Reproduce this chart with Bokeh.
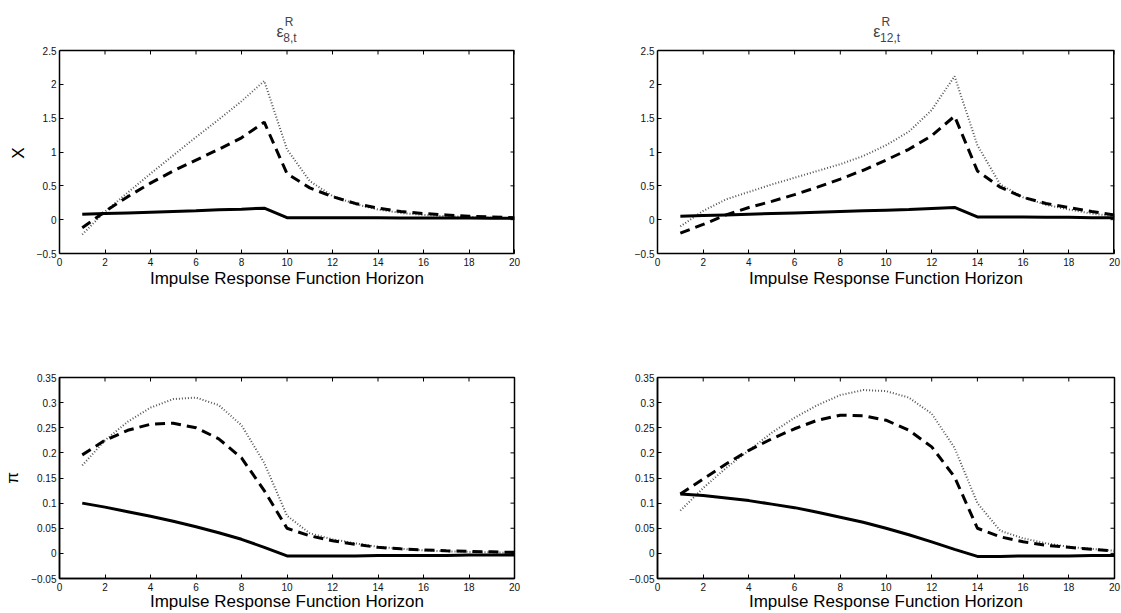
from bokeh.plotting import figure
from bokeh.layouts import gridplot
from bokeh.models import Range1d, FixedTicker, Label
from bokeh.embed import file_html
from bokeh.resources import INLINE

# ---------------- data ----------------
horizon = [1, 2, 3, 4, 5, 6, 7, 8, 9, 10, 11, 12, 13, 14, 15, 16, 17, 18, 19, 20]

x_ticks = [0, 2, 4, 6, 8, 10, 12, 14, 16, 18, 20]
x_tick_labels = ["0", "2", "4", "6", "8", "10", "12", "14", "16", "18", "20"]

y_ticks_x = [-0.5, 0, 0.5, 1, 1.5, 2, 2.5]
y_tick_labels_x = ["\u22120.5", "0", "0.5", "1", "1.5", "2", "2.5"]
y_ticks_pi = [-0.05, 0, 0.05, 0.1, 0.15, 0.2, 0.25, 0.3, 0.35]
y_tick_labels_pi = ["\u22120.05", "0", "0.05", "0.1", "0.15", "0.2", "0.25", "0.3", "0.35"]

x_axis_title = "Impulse Response Function Horizon"
row_labels = ["X", "\u03c0"]
shock_subscripts = ["8,t", "12,t"]

# output gap X, shock eps_8
x8_solid = [0.08, 0.09, 0.10, 0.11, 0.12, 0.13, 0.145, 0.155, 0.17, 0.03,
            0.03, 0.03, 0.028, 0.027, 0.026, 0.025, 0.024, 0.023, 0.022, 0.02]
x8_dashed = [-0.12, 0.12, 0.34, 0.54, 0.72, 0.88, 1.04, 1.21, 1.44, 0.68,
             0.47, 0.34, 0.24, 0.17, 0.12, 0.09, 0.07, 0.05, 0.04, 0.03]
x8_dotted = [-0.22, 0.12, 0.40, 0.68, 0.95, 1.22, 1.48, 1.75, 2.05, 1.04,
             0.57, 0.35, 0.23, 0.15, 0.10, 0.07, 0.05, 0.04, 0.03, 0.02]

# output gap X, shock eps_12
x12_solid = [0.05, 0.06, 0.07, 0.08, 0.09, 0.10, 0.11, 0.12, 0.13, 0.14,
             0.15, 0.165, 0.18, 0.04, 0.04, 0.04, 0.035, 0.035, 0.03, 0.03]
x12_dashed = [-0.20, -0.07, 0.07, 0.18, 0.27, 0.37, 0.48, 0.60, 0.73, 0.88,
              1.04, 1.24, 1.53, 0.72, 0.48, 0.33, 0.24, 0.18, 0.12, 0.07]
x12_dotted = [-0.10, 0.13, 0.30, 0.41, 0.52, 0.62, 0.72, 0.82, 0.94, 1.10,
              1.30, 1.62, 2.12, 1.10, 0.52, 0.33, 0.22, 0.15, 0.09, 0.05]

# inflation pi, shock eps_8
pi8_solid = [0.100, 0.092, 0.083, 0.074, 0.064, 0.053, 0.041, 0.028, 0.012, -0.005,
             -0.005, -0.005, -0.005, -0.004, -0.004, -0.004, -0.004, -0.003, -0.003, -0.003]
pi8_dashed = [0.196, 0.225, 0.245, 0.257, 0.259, 0.250, 0.228, 0.190, 0.125, 0.050,
              0.035, 0.025, 0.018, 0.012, 0.009, 0.007, 0.005, 0.004, 0.003, 0.002]
pi8_dotted = [0.175, 0.225, 0.262, 0.290, 0.307, 0.310, 0.295, 0.255, 0.180, 0.075,
              0.040, 0.028, 0.020, 0.013, 0.009, 0.006, 0.004, 0.003, 0.002, 0.001]

# inflation pi, shock eps_12
pi12_solid = [0.118, 0.115, 0.110, 0.105, 0.098, 0.091, 0.082, 0.072, 0.062, 0.050,
              0.037, 0.023, 0.008, -0.006, -0.006, -0.005, -0.005, -0.005, -0.004, -0.004]
pi12_dashed = [0.118, 0.148, 0.178, 0.205, 0.228, 0.248, 0.265, 0.275, 0.274, 0.265,
               0.245, 0.212, 0.152, 0.050, 0.033, 0.023, 0.016, 0.012, 0.008, 0.005]
pi12_dotted = [0.085, 0.130, 0.170, 0.205, 0.240, 0.270, 0.295, 0.315, 0.325, 0.323,
               0.310, 0.278, 0.210, 0.100, 0.045, 0.030, 0.020, 0.013, 0.009, 0.005]

FONT = "Liberation Sans"
NBSP = "\u00a0"


def make_panel(width, height, bl, br, bt, bb, yr, yticks, ylabels,
               solid, dashed, dotted, ylabel=None, xlab_standoff=0, title_space=0):
    lo, hi = yr
    frame_h = height - bt - bb
    top = hi + title_space * (hi - lo) / frame_h   # room above the box for the title
    p = figure(width=width, height=height + title_space, output_backend="svg",
               toolbar_location=None,
               x_range=Range1d(0, 20), y_range=Range1d(lo, top),
               min_border_left=bl, min_border_right=br,
               min_border_top=bt, min_border_bottom=bb)
    p.background_fill_color = "white"
    p.border_fill_color = "white"
    p.grid.visible = False

    p.line(horizon, dotted, line_color="#555555", line_width=2, line_dash="1 2")
    p.line(horizon, dashed, line_color="black", line_width=3, line_dash="10 6")
    p.line(horizon, solid, line_color="black", line_width=3)

    if title_space:
        p.outline_line_color = None
        # top and right edges of the axes box
        p.line([0, 20], [hi, hi], line_color="black", line_width=1.5)
        p.line([20, 20], [lo, hi], line_color="black", line_width=3)
    else:
        p.outline_line_color = "black"
        p.outline_line_width = 1.5

    # inward ticks on the top and right edges of the box
    p.ray(x=x_ticks, y=[hi] * len(x_ticks), length=4, length_units="screen",
          angle=-90, angle_units="deg", line_color="black", line_width=1)
    p.ray(x=[20] * len(yticks), y=yticks, length=4, length_units="screen",
          angle=180, angle_units="deg", line_color="black", line_width=1)

    xa = p.below[0]
    ya = p.left[0]
    for ax, ticks, labs in ((xa, x_ticks, x_tick_labels), (ya, yticks, ylabels)):
        ax.ticker = FixedTicker(ticks=ticks)
        ax.major_label_overrides = {t: l for t, l in zip(ticks, labs)}
        ax.minor_tick_line_color = None
        ax.major_tick_in = 4
        ax.major_tick_out = 0
        ax.axis_line_width = 1.5
        ax.axis_line_color = "black"
        ax.major_tick_line_color = "black"
        ax.major_label_text_font = FONT
        ax.major_label_text_font_size = "10px"
        ax.major_label_text_color = "#111111"
        ax.axis_label_text_font = FONT
        ax.axis_label_text_font_style = "normal"
        ax.axis_label_text_color = "black"
    ya.bounds = (lo, hi)
    xa.major_label_standoff = 4
    ya.major_label_standoff = 3
    xa.axis_label = x_axis_title
    xa.axis_label_text_font_size = "17px"
    xa.axis_label_standoff = xlab_standoff
    if ylabel:
        # the label is centred on the whole frame; pad it so the glyph sits at the box centre
        pad = int(round(title_space / 4.7))
        ya.axis_label = ylabel + NBSP * pad
        ya.axis_label_text_font_size = "17px"
        ya.axis_label_standoff = 6
    return p


def add_title(p, x_eps, sub):
    # epsilon with superscript R and subscript, placed above the box
    p.add_layout(Label(x=x_eps, y=2.781, text="\u03b5",
                       text_font=FONT, text_font_size="16px",
                       text_baseline="alphabetic", text_align="left"))
    p.add_layout(Label(x=x_eps + 0.36, y=2.918, text="R",
                       text_font=FONT, text_font_size="12px",
                       text_baseline="alphabetic", text_align="left"))
    p.add_layout(Label(x=x_eps + 0.30, y=2.685, text=sub,
                       text_font=FONT, text_font_size="12px",
                       text_baseline="alphabetic", text_align="left"))


TOP_H, BOT_H = 270, 293
LW, RW = 600, 521
TITLE_SPACE = 50

p1 = make_panel(LW, TOP_H, 57, 86, 0, 67, (-0.5, 2.5), y_ticks_x, y_tick_labels_x,
                x8_solid, x8_dashed, x8_dotted, ylabel=row_labels[0], title_space=TITLE_SPACE)
p2 = make_panel(RW, TOP_H, 57, 7, 0, 67, (-0.5, 2.5), y_ticks_x, y_tick_labels_x,
                x12_solid, x12_dashed, x12_dotted, title_space=TITLE_SPACE)
p3 = make_panel(LW, BOT_H, 57, 86, 57, 32, (-0.05, 0.35), y_ticks_pi, y_tick_labels_pi,
                pi8_solid, pi8_dashed, pi8_dotted, ylabel=row_labels[1], xlab_standoff=-2)
p4 = make_panel(RW, BOT_H, 57, 7, 57, 32, (-0.05, 0.35), y_ticks_pi, y_tick_labels_pi,
                pi12_solid, pi12_dashed, pi12_dotted, xlab_standoff=-2)

add_title(p1, 9.54, shock_subscripts[0])
add_title(p2, 9.44, shock_subscripts[1])

layout = gridplot([[p1, p2], [p3, p4]], toolbar_location=None)

open("out.html", "w").write(file_html(layout, INLINE))
